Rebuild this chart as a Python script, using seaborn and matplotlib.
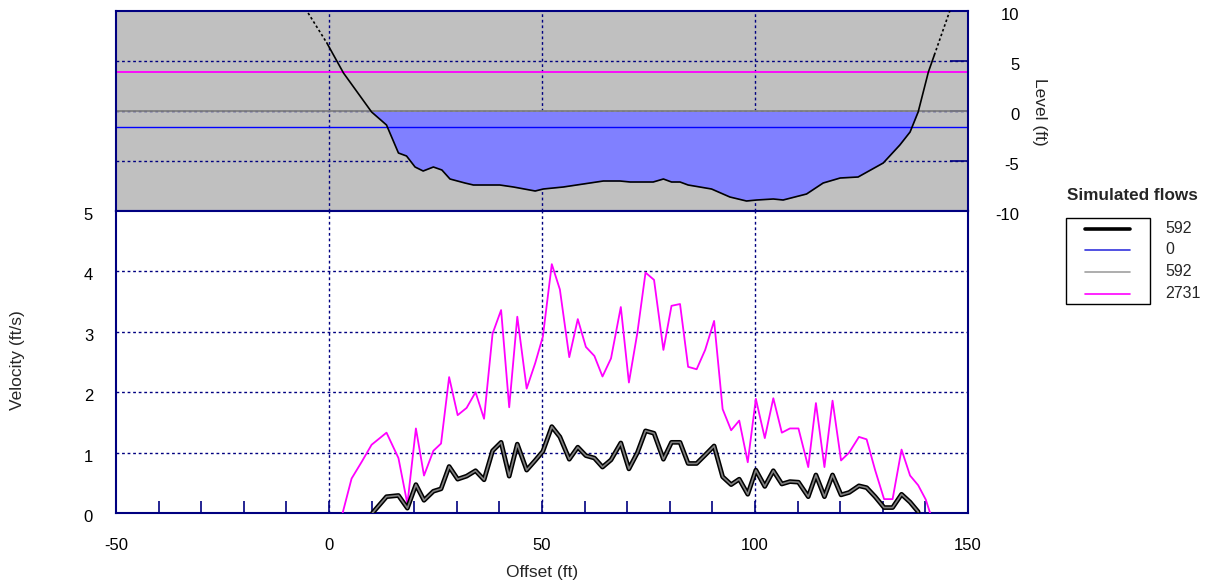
import matplotlib
matplotlib.use("Agg")
import matplotlib.pyplot as plt
import seaborn as sns
import numpy as np
from matplotlib.lines import Line2D
from matplotlib.ticker import MultipleLocator
from matplotlib.transforms import ScaledTranslation

# ---------------- data ----------------
ground_x = [-4.9, -0.5, 3.4, 10.0, 13.5, 16.3, 18.2, 20.2, 22.1, 24.5, 26.5, 28.4, 31.9, 33.9,
            40.1, 43.3, 48.4, 50.3, 55.0, 64.4, 68.3, 70.7, 76.1, 78.5, 80.4, 82.4, 84.3, 89.8,
            94.1, 98.0, 100.4, 104.3, 106.6, 112.1, 116.0, 120.0, 124.2, 130.1, 134.0, 136.4,
            138.3, 140.7, 142.1, 145.8]
ground_z = [9.8, 6.8, 3.8, -0.1, -1.4, -4.2, -4.5, -5.6, -6.0, -5.6, -5.9, -6.8, -7.2, -7.4,
            -7.4, -7.6, -8.0, -7.8, -7.6, -7.0, -7.0, -7.1, -7.1, -6.8, -7.1, -7.1, -7.4, -7.8,
            -8.6, -9.0, -8.9, -8.8, -8.9, -8.3, -7.2, -6.7, -6.6, -5.2, -3.4, -2.1,
            -0.1, 3.9, 5.6, 10.1]

flows = ["592", "0", "592", "2731"]
level_0 = -1.6
level_592 = 0.0
level_2731 = 3.9

vel_x_2731 = [3.2, 5.3, 7.7, 10.0, 13.5, 16.3, 18.4, 20.4, 22.3, 24.5, 26.3, 28.2, 30.2, 32.3,
              34.4, 36.4, 38.4, 40.4, 42.3, 44.2, 46.4, 48.4, 50.2, 52.3, 54.2, 56.4, 58.4,
              60.3, 62.3, 64.2, 66.2, 68.5, 70.4, 72.4, 74.3, 76.3, 78.5, 80.4, 82.4, 84.3,
              86.3, 88.3, 90.4, 92.4, 94.4, 96.3, 98.3, 100.2, 102.3, 104.3, 106.3, 108.2,
              110.2, 112.5, 114.3, 116.3, 118.2, 120.2, 122.1, 124.4, 126.2, 128.2, 130.3,
              132.3, 134.4, 136.4, 138.3, 140.1, 141.1]
vel_2731 = [0.0, 0.57, 0.85, 1.13, 1.33, 0.91, 0.15, 1.40, 0.62, 1.03, 1.15, 2.25, 1.62, 1.74,
            2.00, 1.56, 2.97, 3.36, 1.75, 3.25, 2.06, 2.48, 2.92, 4.12, 3.70, 2.58, 3.21,
            2.75, 2.60, 2.26, 2.56, 3.41, 2.16, 2.99, 3.98, 3.86, 2.70, 3.43, 3.46, 2.42,
            2.38, 2.70, 3.18, 1.72, 1.37, 1.53, 0.84, 1.89, 1.24, 1.90, 1.33, 1.40,
            1.40, 0.76, 1.82, 0.76, 1.86, 0.87, 1.00, 1.26, 1.22, 0.71, 0.23,
            0.23, 1.05, 0.62, 0.46, 0.22, 0.0]

vel_x_592 = [10.2, 13.5, 16.3, 18.4, 20.4, 22.3, 24.5, 26.3, 28.2, 30.2, 32.3, 34.4, 36.4,
             38.4, 40.4, 42.3, 44.2, 46.4, 48.4, 50.2, 52.3, 54.2, 56.4, 58.4, 60.3, 62.3,
             64.2, 66.2, 68.5, 70.4, 72.4, 74.3, 76.3, 78.5, 80.4, 82.4, 84.3, 86.3, 88.3,
             90.4, 92.4, 94.4, 96.3, 98.3, 100.2, 102.3, 104.3, 106.3, 108.2, 110.2, 112.5,
             114.3, 116.3, 118.2, 120.2, 122.1, 124.4, 126.2, 128.2, 130.3, 132.3, 134.4,
             136.4, 138.3]
vel_592 = [0.0, 0.27, 0.29, 0.08, 0.47, 0.21, 0.36, 0.40, 0.77, 0.56, 0.61, 0.70, 0.55,
           1.03, 1.17, 0.61, 1.14, 0.71, 0.87, 1.02, 1.43, 1.26, 0.89, 1.09, 0.95, 0.91,
           0.76, 0.88, 1.16, 0.73, 1.00, 1.36, 1.32, 0.89, 1.17, 1.17, 0.82, 0.82, 0.96,
           1.11, 0.60, 0.47, 0.56, 0.31, 0.71, 0.44, 0.70, 0.48, 0.52, 0.51, 0.27,
           0.63, 0.27, 0.63, 0.30, 0.34, 0.45, 0.42, 0.27, 0.09, 0.09, 0.31,
           0.18, 0.02]

vel_x_0 = [13.5, 136.9]
vel_0 = [0.0, 0.0]

x_ticks = [-50, 0, 50, 100, 150]
level_ticks = [-10, -5, 0, 5, 10]
vel_ticks = [0, 1, 2, 3, 4, 5]

# ---------------- style ----------------
sns.set_style("white")
plt.rcParams['font.family'] = ['Liberation Sans', 'DejaVu Sans']
plt.rcParams['axes.unicode_minus'] = False
NAVY = "#000080"
MAGENTA = "#FF00FF"
FILL = "#8080FF"
GRIDKW = dict(color=NAVY, linestyle=(0, (2, 2)), linewidth=1.0)
TICKFS = 12
LABFS = 12.5

W, H = 1218, 586
fig = plt.figure(figsize=(W / 100, H / 100), dpi=100)

def fx(px):
    return px / W

def fy(py):
    return 1 - py / H

ax_top = fig.add_axes([fx(116), fy(211), fx(968) - fx(116), fy(11) - fy(211)])
ax_bot = fig.add_axes([fx(116), fy(513), fx(968) - fx(116), fy(211) - fy(513)], sharex=ax_top)

for ax in (ax_top, ax_bot):
    for s in ax.spines.values():
        s.set_color(NAVY)
        s.set_linewidth(1.5)
    ax.set_xlim(-50, 150)
    ax.set_xticks(x_ticks)
    ax.xaxis.set_minor_locator(MultipleLocator(10))
    ax.tick_params(axis='both', which='both', direction='in', colors=NAVY,
                   labelcolor='black', labelsize=TICKFS)
    ax.tick_params(axis='x', which='major', length=9, width=1.2)
    ax.tick_params(axis='x', which='minor', length=9, width=1.2)
    ax.set_axisbelow(True)
    for xv in [0, 50, 100]:
        ax.axvline(xv, zorder=0.5, **GRIDKW)

# ---- top panel: cross section ----
ax_top.set_facecolor("#C0C0C0")
ax_top.set_ylim(-10, 10)
for yv in [-5, 0, 5]:
    ax_top.axhline(yv, zorder=0.5, **GRIDKW)
gx = np.array(ground_x)
gz = np.array(ground_z)
ax_top.fill_between(gx, gz, level_592, where=gz < level_592, interpolate=True,
                    color=FILL, zorder=1, linewidth=0)
ax_top.axhline(level_592, color="#808080", lw=1.3, zorder=2)
ax_top.axhline(level_0, color="#0000FF", lw=1.0, zorder=2)
ax_top.axhline(level_2731, color=MAGENTA, lw=1.3, zorder=2)
sns.lineplot(x=ground_x[:2], y=ground_z[:2], ax=ax_top, color="black", lw=1.2,
             linestyle=(0, (1.5, 1.5)), sort=False, estimator=None, zorder=3)
sns.lineplot(x=ground_x[1:-1], y=ground_z[1:-1], ax=ax_top, color="black", lw=1.2,
             sort=False, estimator=None, zorder=3)
sns.lineplot(x=ground_x[-2:], y=ground_z[-2:], ax=ax_top, color="black", lw=1.2,
             linestyle=(0, (1.5, 1.5)), sort=False, estimator=None, zorder=3)
ax_top.set_xlabel("")
ax_top.set_ylabel("")
ax_top.yaxis.tick_right()
ax_top.set_yticks(level_ticks)
ax_top.tick_params(axis='y', which='major', length=13, width=1.2, pad=37)
ax_top.tick_params(axis='x', labelbottom=False, bottom=False, top=False, which='both')

# ---- bottom panel: velocities ----
ax_bot.set_facecolor("white")
ax_bot.set_ylim(0, 5)
ax_bot.set_yticks(vel_ticks)
for yv in [1, 2, 3, 4]:
    ax_bot.axhline(yv, zorder=0.5, **GRIDKW)
sns.lineplot(x=vel_x_0, y=vel_0, ax=ax_bot, color="#0000FF", lw=1.2,
             sort=False, estimator=None, zorder=2, clip_on=False)
sns.lineplot(x=vel_x_2731, y=vel_2731, ax=ax_bot, color=MAGENTA, lw=1.3,
             sort=False, estimator=None, zorder=3)
sns.lineplot(x=vel_x_592, y=vel_592, ax=ax_bot, color="black", lw=3.4,
             sort=False, estimator=None, zorder=4)
sns.lineplot(x=vel_x_592, y=vel_592, ax=ax_bot, color="#808080", lw=1.2,
             sort=False, estimator=None, zorder=5)
ax_bot.set_xlabel("")
ax_bot.set_ylabel("")
ax_bot.tick_params(axis='x', which='both', bottom=True, top=False, pad=18)
ax_bot.tick_params(axis='y', which='both', left=False, right=False, pad=16.5)

# tick labels sit a few pixels below their grid level in the reference
shift = ScaledTranslation(0, -3 / 100, fig.dpi_scale_trans)
for lab in ax_top.get_yticklabels():
    lab.set_horizontalalignment('right')
    lab.set_transform(lab.get_transform() + shift)
for lab in ax_bot.get_yticklabels():
    lab.set_transform(lab.get_transform() + shift)

# ---- axis titles ----
fig.text(fx(17.5), fy(360), "Velocity (ft/s)", rotation=90, ha='center', va='center', fontsize=LABFS)
fig.text(fx(542), fy(573), "Offset (ft)", ha='center', va='center', fontsize=LABFS)
fig.text(fx(1039), fy(112), "Level (ft)", rotation=270, ha='center', va='center', fontsize=LABFS)

# ---- legend (manual) ----
fig.text(fx(1132), fy(196), "Simulated flows", ha='center', va='center',
         fontsize=12.3, fontweight='bold')
box = plt.Rectangle((fx(1066), fy(304)), fx(1150) - fx(1066), fy(218) - fy(304),
                    transform=fig.transFigure, fill=False, edgecolor='black', lw=1.0)
fig.add_artist(box)
leg_styles = [("black", 2.6), ("#3333DD", 1.2), ("#A0A0A0", 1.2), (MAGENTA, 1.2)]
leg_y = [228.5, 250, 271.5, 294]
for (c, lw), yy, lab in zip(leg_styles, leg_y, flows):
    fig.add_artist(Line2D([fx(1085), fx(1130)], [fy(yy), fy(yy)], color=c, lw=lw,
                          transform=fig.transFigure))
    fig.text(fx(1165), fy(yy), lab, ha='left', va='center', fontsize=11.5)

fig.savefig("out.png", dpi=100)
